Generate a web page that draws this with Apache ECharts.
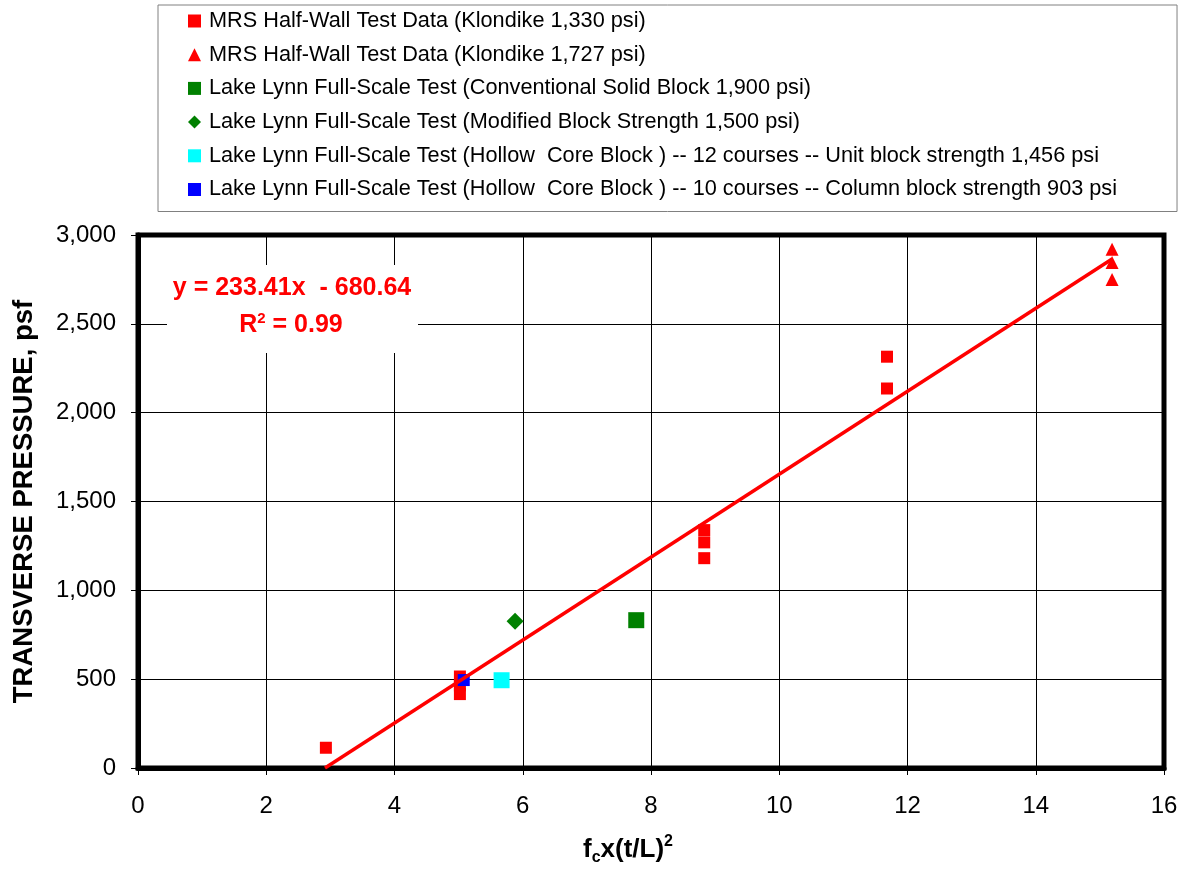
<!DOCTYPE html>
<html><head><meta charset="utf-8">
<script src="https://cdn.jsdelivr.net/npm/echarts@6/dist/echarts.min.js"></script>
<style>html,body{margin:0;padding:0;background:#fff}#c{width:1186px;height:871px}</style>
</head><body><div id="c"></div>
<script>
// ---- data ----
const seriesNames = [
  'MRS Half-Wall Test Data (Klondike 1,330 psi)',
  'MRS Half-Wall Test Data (Klondike 1,727 psi)',
  'Lake Lynn Full-Scale Test (Conventional Solid Block 1,900 psi)',
  'Lake Lynn Full-Scale Test (Modified Block Strength 1,500 psi)',
  'Lake Lynn Full-Scale Test (Hollow  Core Block ) -- 12 courses -- Unit block strength 1,456 psi',
  'Lake Lynn Full-Scale Test (Hollow  Core Block ) -- 10 courses -- Column block strength 903 psi'
];
const mrs1330X = [2.93, 5.02, 5.02, 5.02, 8.83, 8.83, 8.83, 11.68, 11.68];
const mrs1330Y = [114, 515, 465, 416, 1339, 1270, 1181, 2315, 2136];
const mrs1727X = [15.19, 15.19, 15.19];
const mrs1727Y = [2920, 2845, 2750];
const solidX = [7.77];
const solidY = [832];
const modifiedX = [5.88];
const modifiedY = [826];
const hollow12X = [5.67];
const hollow12Y = [494];
const hollow10X = [5.08];
const hollow10Y = [495];
const trendX = [2.916, 15.19];
const trendY = [0, 2865];
const xTicks = [0, 2, 4, 6, 8, 10, 12, 14, 16];
const yTicks = [0, 500, 1000, 1500, 2000, 2500, 3000];
const equationText = 'y = 233.41x  - 680.64';
const r2Text = '0.99';

const FONT = '"Liberation Sans", Arial, sans-serif';
function pairs(xs, ys) { return xs.map((x, i) => [x, ys[i]]); }

const chart = echarts.init(document.getElementById('c'), null, { renderer: 'canvas' });
const option = {
  animation: false,
  backgroundColor: '#fff',
  textStyle: { fontFamily: FONT },
  grid: { left: 138, top: 235, width: 1026, height: 535, show: true, borderColor: '#000', borderWidth: 5, containLabel: false },
  legend: {
    orient: 'vertical', left: 158, top: 5,
    padding: [5, 60, 11, 30], itemGap: 11.7, itemWidth: 13, itemHeight: 13,
    borderColor: '#808080', borderWidth: 1, selectedMode: false,
    data: seriesNames,
    textStyle: { fontFamily: FONT, fontSize: 21.7, color: '#000', lineHeight: 22, padding: [0, 0, 0, 3] }
  },
  xAxis: {
    type: 'value', min: xTicks[0], max: xTicks[xTicks.length - 1], interval: xTicks[1] - xTicks[0],
    axisLine: { show: true, lineStyle: { color: '#000', width: 5 } },
    axisTick: { show: true, inside: false, length: 7, lineStyle: { color: '#000', width: 1 } },
    axisLabel: { margin: 26, fontSize: 24, color: '#000', fontFamily: FONT },
    splitLine: { show: true, lineStyle: { color: '#000', width: 1 } },
    name: '{a|f}{b|c}{a|x(t/L)}{c|2}', nameLocation: 'middle', nameGap: 66,
    nameTextStyle: {
      padding: [0, 46, 0, 0],
      rich: {
        a: { fontSize: 26, fontWeight: 'bold', color: '#000', fontFamily: FONT, lineHeight: 32 },
        b: { fontSize: 16, fontWeight: 'bold', color: '#000', fontFamily: FONT, lineHeight: 16, verticalAlign: 'bottom' },
        c: { fontSize: 16, fontWeight: 'bold', color: '#000', fontFamily: FONT, lineHeight: 16, verticalAlign: 'top' }
      }
    }
  },
  yAxis: {
    type: 'value', min: yTicks[0], max: yTicks[yTicks.length - 1], interval: yTicks[1] - yTicks[0],
    axisLine: { show: true, lineStyle: { color: '#000', width: 5 } },
    axisTick: { show: true, inside: false, length: 7, lineStyle: { color: '#000', width: 1 } },
    axisLabel: { margin: 22, fontSize: 24, color: '#000', fontFamily: FONT, formatter: v => v.toLocaleString('en-US') },
    splitLine: { show: true, lineStyle: { color: '#000', width: 1 } },
    name: 'TRANSVERSE PRESSURE, psf', nameLocation: 'middle', nameGap: 100, nameRotate: 90,
    nameTextStyle: { fontSize: 27.5, fontWeight: 'bold', color: '#000', fontFamily: FONT }
  },
  graphic: [
    { type: 'rect', left: 167, top: 265, shape: { width: 251, height: 88 }, style: { fill: '#fff' }, z: 5 },
    { type: 'text', x: 292, y: 288, z: 6,
      style: { text: equationText, font: 'bold 25px "Liberation Sans", Arial', fill: '#ff0000', align: 'center', verticalAlign: 'middle' } },
    { type: 'text', x: 291, y: 325, z: 6,
      style: {
        text: '{r|R}{s|2}{r| = ' + r2Text + '}', align: 'center', verticalAlign: 'middle',
        rich: {
          r: { fontSize: 25, fontWeight: 'bold', fontFamily: FONT, fill: '#ff0000', lineHeight: 28 },
          s: { fontSize: 15, fontWeight: 'bold', fontFamily: FONT, fill: '#ff0000', lineHeight: 15, verticalAlign: 'top' }
        }
      } }
  ],
  series: [
    { name: seriesNames[0], type: 'scatter', symbol: 'rect', symbolSize: 12, itemStyle: { color: '#ff0000', opacity: 1 }, data: pairs(mrs1330X, mrs1330Y), z: 2 },
    { name: seriesNames[1], type: 'scatter', symbol: 'triangle', symbolSize: 13, itemStyle: { color: '#ff0000', opacity: 1 }, data: pairs(mrs1727X, mrs1727Y), z: 2 },
    { name: seriesNames[2], type: 'scatter', symbol: 'rect', symbolSize: 16, itemStyle: { color: '#008000', opacity: 1 }, data: pairs(solidX, solidY), z: 2 },
    { name: seriesNames[3], type: 'scatter', symbol: 'diamond', symbolSize: 17, itemStyle: { color: '#008000', opacity: 1 }, data: pairs(modifiedX, modifiedY), z: 2 },
    { name: seriesNames[4], type: 'scatter', symbol: 'rect', symbolSize: 16, itemStyle: { color: '#00ffff', opacity: 1 }, data: pairs(hollow12X, hollow12Y), z: 2 },
    { name: seriesNames[5], type: 'scatter', symbol: 'rect', symbolSize: 12, itemStyle: { color: '#0000ff', opacity: 1 }, data: pairs(hollow10X, hollow10Y), z: 2 },
    { name: 'Linear trend', type: 'line', showSymbol: false, symbol: 'none', lineStyle: { color: '#ff0000', width: 3.5 }, data: pairs(trendX, trendY), z: 3 }
  ]
};
chart.setOption(option);
</script>
</body></html>
